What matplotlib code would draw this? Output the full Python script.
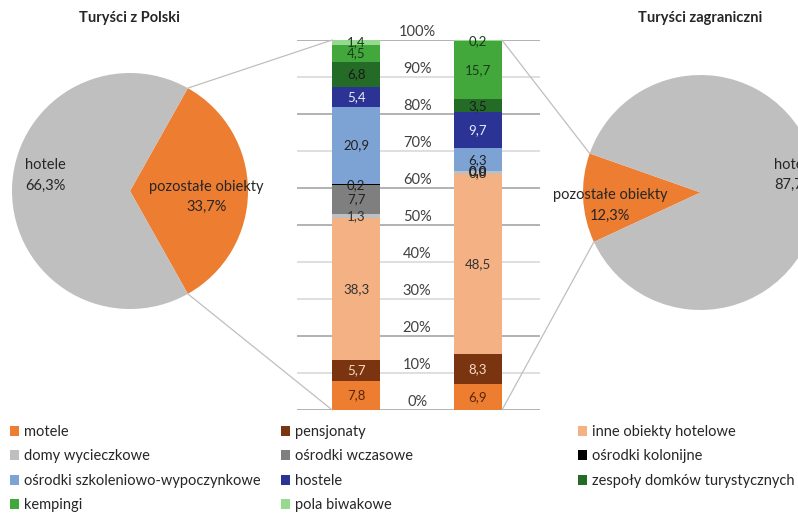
import numpy as np
import matplotlib.pyplot as plt
from matplotlib.patches import Patch, ConnectionPatch

plt.rcParams['font.family'] = ['Lato', 'DejaVu Sans']

# pie data
pie_labels = ["pozostałe obiekty", "hotele"]
pie_polska = [33.7, 66.3]
pie_zagr = [12.3, 87.7]

# stacked bars: structure of "pozostałe obiekty"
categories = ["motele", "pensjonaty", "inne obiekty hotelowe", "domy wycieczkowe",
              "ośrodki wczasowe", "ośrodki kolonijne", "ośrodki szkoleniowo-wypoczynkowe",
              "hostele", "zespoły domków turystycznych", "kempingi", "pola biwakowe"]
bar_polska = [7.8, 5.7, 38.3, 1.3, 7.7, 0.2, 20.9, 5.4, 6.8, 4.5, 1.4]
bar_zagr = [6.9, 8.3, 48.5, 0.8, 0.0, 0.0, 6.3, 9.7, 3.5, 15.7, 0.2]
colors = ["#ED7D31", "#7A3510", "#F4B183", "#BFBFBF", "#7F7F7F", "#000000",
          "#7DA2D4", "#2B3494", "#236B26", "#43A83B", "#95DA8E"]
label_colors = ["#5A2508", "#F6D9C2", "#333333", "#333333", "#222222", "#222222",
                "#222222", "#E8ECFA", "#1A1A1A", "#1A3A1A", "#1A3A1A"]

W, H = 798, 514
fig = plt.figure(figsize=(W / 100, H / 100), dpi=100)


def px_axes(x0, y0, w, h):
    return fig.add_axes([x0 / W, 1 - (y0 + h) / H, w / W, h / H])


def draw_pie(ax, values, start):
    wedges, _ = ax.pie(values, colors=["#ED7D31", "#BFBFBF"], startangle=start,
                       counterclock=True, radius=1.0)
    ax.set_xlim(-1, 1)
    ax.set_ylim(-1, 1)
    ax.set_aspect("equal")
    return wedges


# left pie
ax_l = px_axes(12, 73, 236, 236)
w_l = draw_pie(ax_l, pie_polska, -pie_polska[0] * 1.8)
ax_l.text(-0.72, 0.13, "hotele\n66,3%", ha="center", va="center", fontsize=10.5,
          color="#262626", linespacing=1.6)
ax_l.text(0.65, -0.05, pie_labels[0] + "\n33,7%", ha="center", va="center",
          fontsize=10.5, color="#262626", linespacing=1.6)

# right pie
ax_r = px_axes(583, 75, 235, 235)
w_r = draw_pie(ax_r, pie_zagr, 160.6)
ax_r.text(-0.77, -0.11, pie_labels[0] + "\n12,3%", ha="center", va="center",
          fontsize=10.5, color="#262626", linespacing=1.6)
ax_r.text(0.80, 0.15, "hotele\n87,7%", ha="center", va="center", fontsize=10.5,
          color="#262626", linespacing=1.6)

fig.text(129 / W, 1 - 18 / H, "Turyści z Polski", ha="center", va="center",
         fontsize=10.5, fontweight="bold", color="#262626")
fig.text(700 / W, 1 - 18 / H, "Turyści zagraniczni", ha="center", va="center",
         fontsize=10.5, fontweight="bold", color="#262626")

# stacked bars
ax_b = px_axes(297, 40, 243, 370)
bw = 0.395
for i, series in enumerate([bar_polska, bar_zagr]):
    bottom = 0
    for v, c, lc in zip(series, colors, label_colors):
        ax_b.bar(i, v, bottom=bottom, width=bw, color=c, zorder=2)
        ax_b.text(i, bottom + v / 2, f"{v:.1f}".replace(".", ","), ha="center",
                  va="center", fontsize=9.5, color=lc, zorder=3)
        bottom += v

dark_lines = [0, 20, 50, 60, 80, 100]
for t in range(0, 101, 10):
    ax_b.axhline(t, color="#A6A6A6" if t in dark_lines else "#D9D9D9", lw=1.2, zorder=1)
    ax_b.text(0.5, t + 2.2, f"{t}%", ha="center", va="center", fontsize=10.5,
              color="#404040")
ax_b.set_xlim(-0.487, 1.51)
ax_b.set_ylim(0, 100)
ax_b.axis("off")

# connector lines pie -> bar
for ang, yb in [(w_l[0].theta2, 100), (w_l[0].theta1, 0)]:
    p = (np.cos(np.radians(ang)), np.sin(np.radians(ang)))
    cp = ConnectionPatch(xyA=p, coordsA=ax_l.transData, xyB=(-bw / 2, yb),
                         coordsB=ax_b.transData, color="#BFBFBF", lw=0.9)
    fig.add_artist(cp)
for ang, yb in [(w_r[0].theta1, 100), (w_r[0].theta2, 0)]:
    p = (np.cos(np.radians(ang)), np.sin(np.radians(ang)))
    cp = ConnectionPatch(xyA=p, coordsA=ax_r.transData, xyB=(1 + bw / 2, yb),
                         coordsB=ax_b.transData, color="#BFBFBF", lw=0.9)
    fig.add_artist(cp)

# legend in three columns
handles = [Patch(facecolor=c, edgecolor="none", label=n) for n, c in zip(categories, colors)]
columns = [([0, 3, 6, 9], 4), ([1, 4, 7, 10], 275), ([2, 5, 8], 572)]
for idx, x0 in columns:
    fig.legend(handles=[handles[k] for k in idx], loc="upper left",
               bbox_to_anchor=(x0 / W, 1 - 419 / H), frameon=False, fontsize=10.5,
               handlelength=0.65, handleheight=0.65, handletextpad=0.35,
               labelspacing=0.72, borderaxespad=0, labelcolor="#262626")

fig.savefig("out.png", dpi=100)
